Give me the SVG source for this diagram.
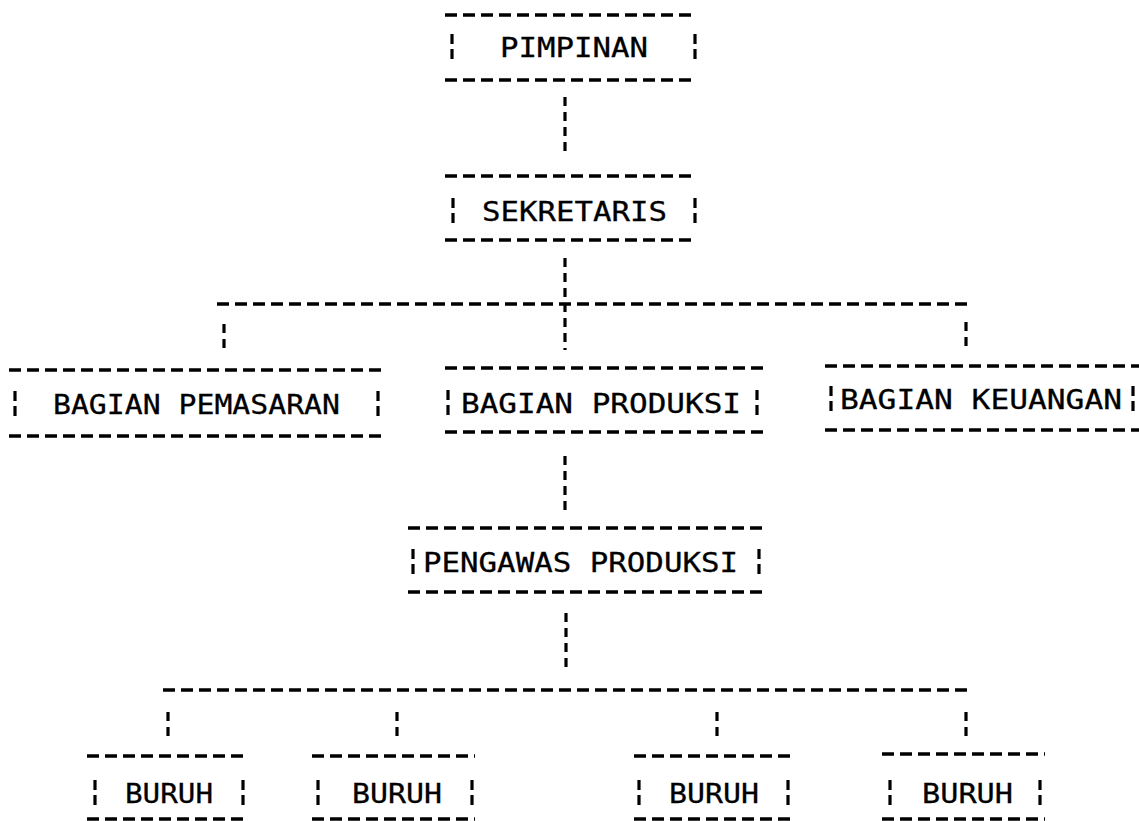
<svg xmlns="http://www.w3.org/2000/svg" width="1139" height="821" viewBox="0 0 1139 821">
<style>
.bg{fill:#ffffff}
.h{stroke:#000;stroke-width:3.4;stroke-dasharray:12 6;fill:none}
.bar{stroke:#000;stroke-width:3.2;stroke-dasharray:10 5;fill:none}
.v{stroke:#000;stroke-width:3.2;stroke-dasharray:9 6;fill:none}
.t{font-family:"DejaVu Sans Mono","Liberation Mono",monospace;font-size:27px;fill:#000;stroke:#000;stroke-width:0.3}
</style>
<rect class="bg" x="0" y="0" width="1139" height="821"/>
<g id="connectors">
<line class="v" x1="565" y1="97" x2="565" y2="157"/>
<line class="v" x1="565" y1="258" x2="565" y2="350"/>
<line class="h" x1="217" y1="304" x2="970" y2="304"/>
<line class="v" x1="224" y1="324" x2="224" y2="352"/>
<line class="v" x1="966" y1="322" x2="966" y2="348"/>
<line class="v" x1="565" y1="456" x2="565" y2="510"/>
<line class="v" x1="566" y1="613" x2="566" y2="673"/>
<line class="h" x1="163" y1="690" x2="970" y2="690"/>
<line class="v" x1="168" y1="712" x2="168" y2="738"/>
<line class="v" x1="397" y1="712" x2="397" y2="738"/>
<line class="v" x1="717" y1="712" x2="717" y2="738"/>
<line class="v" x1="966" y1="712" x2="966" y2="738"/>
</g>
<g id="pimpinan">
<line class="h" x1="445" y1="15" x2="697" y2="15"/>
<line class="h" x1="445" y1="80" x2="697" y2="80"/>
<line class="bar" x1="452" y1="34" x2="452" y2="60"/>
<line class="bar" x1="695" y1="34" x2="695" y2="60"/>
<text class="t" x="500" y="57" textLength="148" lengthAdjust="spacingAndGlyphs">PIMPINAN</text>
</g>
<g id="sekretaris">
<line class="h" x1="445" y1="176" x2="697" y2="176"/>
<line class="h" x1="445" y1="240" x2="697" y2="240"/>
<line class="bar" x1="453" y1="198" x2="453" y2="224"/>
<line class="bar" x1="695" y1="198" x2="695" y2="224"/>
<text class="t" x="482" y="221" textLength="185" lengthAdjust="spacingAndGlyphs">SEKRETARIS</text>
</g>
<g id="bagian-pemasaran">
<line class="h" x1="9" y1="370" x2="382" y2="370"/>
<line class="h" x1="9" y1="436" x2="382" y2="436"/>
<line class="bar" x1="15" y1="391" x2="15" y2="417"/>
<line class="bar" x1="378" y1="391" x2="378" y2="417"/>
<text class="t" x="53" y="414" textLength="287" lengthAdjust="spacingAndGlyphs">BAGIAN PEMASARAN</text>
</g>
<g id="bagian-produksi">
<line class="h" x1="445" y1="368" x2="763" y2="368"/>
<line class="h" x1="445" y1="432" x2="763" y2="432"/>
<line class="bar" x1="448" y1="390" x2="448" y2="416"/>
<line class="bar" x1="757" y1="390" x2="757" y2="416"/>
<text class="t" x="461" y="413" textLength="280" lengthAdjust="spacingAndGlyphs">BAGIAN PRODUKSI</text>
</g>
<g id="bagian-keuangan">
<line class="h" x1="825" y1="366" x2="1139" y2="366"/>
<line class="h" x1="825" y1="430" x2="1139" y2="430"/>
<line class="bar" x1="831" y1="386" x2="831" y2="412"/>
<line class="bar" x1="1133" y1="386" x2="1133" y2="412"/>
<text class="t" x="840" y="409" textLength="282" lengthAdjust="spacingAndGlyphs">BAGIAN KEUANGAN</text>
</g>
<g id="pengawas-produksi">
<line class="h" x1="408" y1="528" x2="763" y2="528"/>
<line class="h" x1="408" y1="592" x2="763" y2="592"/>
<line class="bar" x1="413" y1="549" x2="413" y2="575"/>
<line class="bar" x1="759" y1="549" x2="759" y2="575"/>
<text class="t" x="423" y="572" textLength="315" lengthAdjust="spacingAndGlyphs">PENGAWAS PRODUKSI</text>
</g>
<g id="buruh-1">
<line class="h" x1="87" y1="756" x2="245" y2="756"/>
<line class="h" x1="87" y1="819" x2="245" y2="819"/>
<line class="bar" x1="95" y1="780" x2="95" y2="806"/>
<line class="bar" x1="243" y1="780" x2="243" y2="806"/>
<text class="t" x="125" y="803" textLength="88" lengthAdjust="spacingAndGlyphs">BURUH</text>
</g>
<g id="buruh-2">
<line class="h" x1="312" y1="756" x2="475" y2="756"/>
<line class="h" x1="312" y1="819" x2="475" y2="819"/>
<line class="bar" x1="318" y1="780" x2="318" y2="806"/>
<line class="bar" x1="472" y1="780" x2="472" y2="806"/>
<text class="t" x="352" y="803" textLength="90" lengthAdjust="spacingAndGlyphs">BURUH</text>
</g>
<g id="buruh-3">
<line class="h" x1="634" y1="756" x2="795" y2="756"/>
<line class="h" x1="634" y1="819" x2="795" y2="819"/>
<line class="bar" x1="639" y1="780" x2="639" y2="806"/>
<line class="bar" x1="788" y1="780" x2="788" y2="806"/>
<text class="t" x="669" y="803" textLength="90" lengthAdjust="spacingAndGlyphs">BURUH</text>
</g>
<g id="buruh-4">
<line class="h" x1="882" y1="754" x2="1045" y2="754"/>
<line class="h" x1="882" y1="819" x2="1045" y2="819"/>
<line class="bar" x1="890" y1="780" x2="890" y2="806"/>
<line class="bar" x1="1040" y1="780" x2="1040" y2="806"/>
<text class="t" x="922" y="803" textLength="91" lengthAdjust="spacingAndGlyphs">BURUH</text>
</g>
</svg>
